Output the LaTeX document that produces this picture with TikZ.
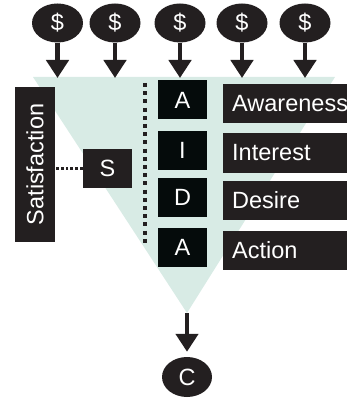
\documentclass[tikz,border=0pt]{standalone}
\usepackage{fontspec}
\setmainfont{Liberation Sans}
\usetikzlibrary{arrows.meta,shapes.geometric}
\definecolor{mint1}{HTML}{D8EBE5}
\definecolor{dark1}{HTML}{231F20}
\definecolor{dark2}{HTML}{050B0B}

\begin{document}
\begin{tikzpicture}[x=1pt, y=-1pt, font=\fontsize{23.5}{27}\selectfont,
  coin/.style={ellipse, fill=dark1, text=white, minimum width=51pt, minimum height=39pt, inner sep=0pt},
  letterbox/.style={fill=dark2, text=white, minimum width=49pt, minimum height=39pt, inner sep=0pt},
  wordbox/.style={fill=dark1, text=white, anchor=west, minimum height=39pt, text width=106pt, inner xsep=9pt, inner ysep=0pt, align=left},
  flow/.style={draw=dark1, line width=4.5pt, -{Triangle[width=22pt,length=18pt]}},
  dots/.style={draw=dark1, line width=4pt, dash pattern=on 4pt off 4.2pt},
  finedots/.style={draw=dark1, line width=3pt, dash pattern=on 2.8pt off 2pt}]
\useasboundingbox (0,0) rectangle (347,398);

% funnel
\coordinate (apex) at (187,313);
\coordinate (rim) at (0,78);
\fill[mint1] (33,77) -- (335,77) -- (apex) -- cycle;

% money in
\node[coin] (d1) at (57.5,23) {\$};
\node[coin] (d2) at (115,23) {\$};
\node[coin] (d3) at (180,23) {\$};
\node[coin] (d4) at (242,23) {\$};
\node[coin] (d5) at (305,23) {\$};
\draw[flow] (d1) -- (d1 |- rim);
\draw[flow] (d2) -- (d2 |- rim);
\draw[flow] (d3) -- (d3 |- rim);
\draw[flow] (d4) -- (d4 |- rim);
\draw[flow] (d5) -- (d5 |- rim);

% AIDA steps
\node[letterbox] (a1) at (182.5,100) {A};
\node[letterbox] (a2) at (182.5,150.5) {I};
\node[letterbox] (a3) at (182.5,197) {D};
\node[letterbox] (a4) at (182.5,247) {A};
\node[wordbox] (w1) at (223,104) {Awareness};
\node[wordbox] (w2) at (223,153) {Interest};
\node[wordbox] (w3) at (223,200) {Desire};
\node[wordbox] (w4) at (223,250) {Action};

\coordinate (dtop) at (144.7,83);
\coordinate (dbot) at (144.7,246);
\draw[dots] (dtop) -- (dbot);

% satisfaction
\node[fill=dark1, text=white, rotate=90, minimum width=155pt, minimum height=40pt, inner sep=0pt] (sat) at (35,164.5) {Satisfaction};
\node[letterbox, fill=dark1] (s) at (107.5,168) {S};
\draw[finedots] (s.west) -- (s.west -| sat.south);

% customer out
\node[coin, minimum height=40pt, minimum width=50pt] (c) at (187,377) {C};
\draw[flow, shorten >=5pt] (apex) -- (c);
\end{tikzpicture}
\end{document}
